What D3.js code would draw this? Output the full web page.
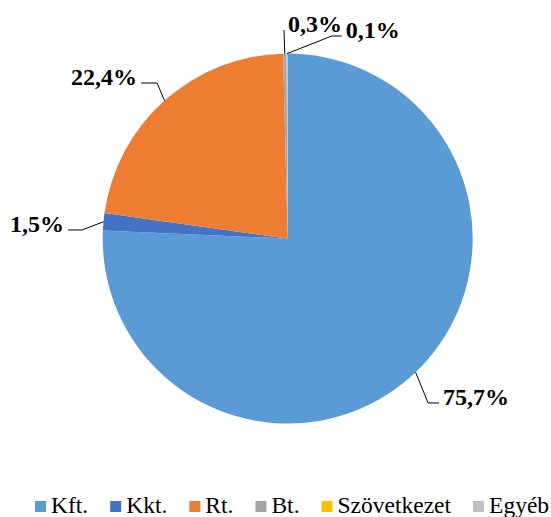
<!DOCTYPE html>
<html>
<head>
<meta charset="utf-8">
<script src="https://cdn.jsdelivr.net/npm/d3@7"></script>
<style>
  body { margin: 0; background: #fff; }
  svg { display: block; }
</style>
</head>
<body>
<div id="chart"></div>
<script>
// categories and shares (percent)
var categories = ["Kft.", "Kkt.", "Rt.", "Bt.", "Szövetkezet", "Egyéb"];
var shares = [75.7, 1.5, 22.4, 0.3, 0.0, 0.1];
var labels = ["75,7%", "1,5%", "22,4%", "0,3%", "", "0,1%"];
var colors = ["#5b9bd5", "#4472c4", "#ed7d31", "#a5a5a5", "#ffc000", "#c0c0c0"];

// leader line layout: elbow offset from slice edge midpoint, then horizontal run
var leaders = [
    {dx: 12.5, dy: 30.7, run: 11},
    {dx: -21.5, dy: 8.2, run: -14},
    {dx: -7.4, dy: -17.6, run: -16},
    {dx: -0.8, dy: -23.6, run: 0},
    null,
    {dx: 44.6, dy: -17.6, run: 10}
];

var width = 551, height = 517;
var cx = 287.7, cy = 238.6, radius = 185;
var serif = "Liberation Serif";

var svg = d3.select("#chart").append("svg")
    .attr("width", width)
    .attr("height", height);

var data = categories.map(function(c, i) {
    return {name: c, value: shares[i], label: labels[i], color: colors[i], leader: leaders[i]};
});

var pie = d3.pie()
    .sort(null)
    .value(function(d) { return d.value; });

var arc = d3.arc().innerRadius(0).outerRadius(radius);
var edge = d3.arc().innerRadius(radius).outerRadius(radius);

var g = svg.append("g")
    .attr("transform", "translate(" + cx + "," + cy + ")");

var arcs = pie(data);

g.selectAll("path.slice")
    .data(arcs)
    .enter().append("path")
    .attr("class", "slice")
    .attr("d", arc)
    .attr("fill", function(d) { return d.data.color; });

// labels with leader lines
arcs.forEach(function(d) {
    var L = d.data.leader;
    if (!L || !d.data.label) return;
    var p0 = edge.centroid(d);
    var p1 = [p0[0] + L.dx, p0[1] + L.dy];
    var p2 = [p1[0] + L.run, p1[1]];
    g.append("polyline")
        .attr("points", [p0, p1, p2].map(function(p) { return p.join(","); }).join(" "))
        .attr("fill", "none")
        .attr("stroke", "#000")
        .attr("stroke-width", 1);
    var right = L.run >= 0;
    g.append("text")
        .attr("x", p2[0] + (right ? 4 : -4))
        .attr("y", p2[1] + 2)
        .attr("text-anchor", right ? "start" : "end")
        .attr("font-family", serif)
        .attr("font-size", 24)
        .attr("font-weight", "bold")
        .attr("fill", "#000")
        .text(d.data.label);
});

// legend
var legend = svg.append("g").attr("class", "legend");
var lx = 35, ly = 501, box = 11, gap = 22;
data.forEach(function(d) {
    legend.append("rect")
        .attr("x", lx)
        .attr("y", ly)
        .attr("width", box)
        .attr("height", box)
        .attr("fill", d.color);
    var t = legend.append("text")
        .attr("x", lx + 16)
        .attr("y", ly + 12)
        .attr("font-family", serif)
        .attr("font-size", 23.5)
        .attr("fill", "#000")
        .text(d.name);
    lx += 16 + t.node().getComputedTextLength() + gap;
});
</script>
</body>
</html>
